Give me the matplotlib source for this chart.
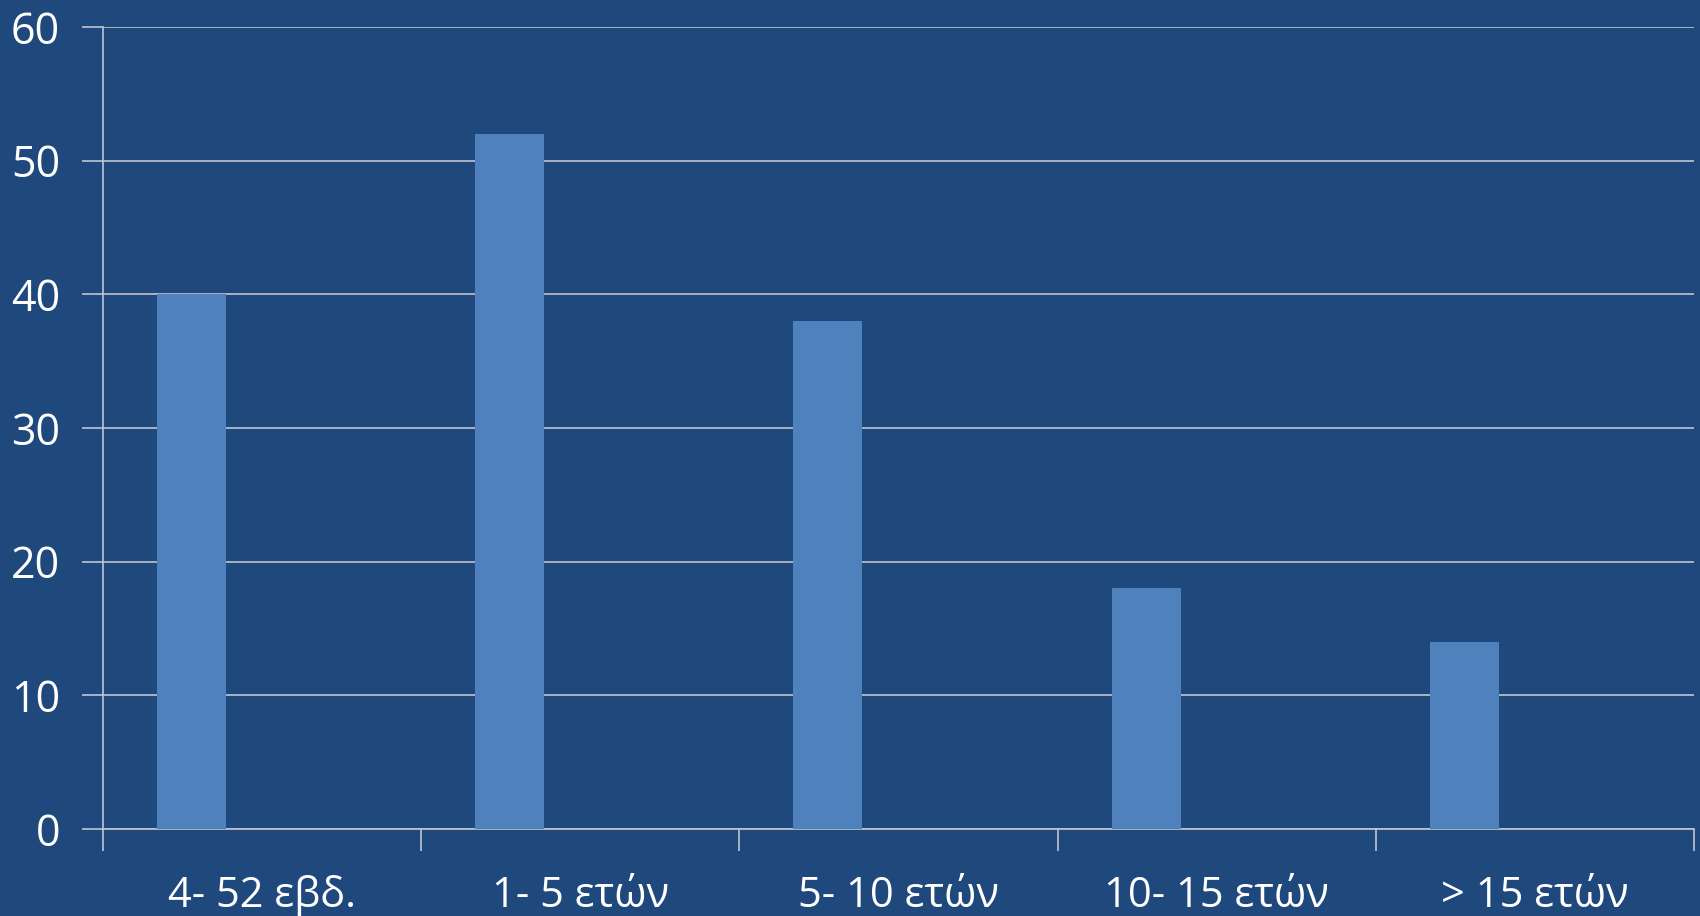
import matplotlib.pyplot as plt
import numpy as np

categories = ['4- 52 εβδ.', '1- 5 ετών', '5- 10 ετών', '10- 15 ετών', '> 15 ετών']
values = [40, 52, 38, 18, 14]

bg = '#1f487c'
bar_color = '#4f81bd'
line_color = '#bfc5cf'

plt.rcParams['font.family'] = ['Open Sans', 'DejaVu Sans']

fig = plt.figure(figsize=(17, 9.16), dpi=100, facecolor=bg)
ax = fig.add_axes([0.0606, 0.095, 0.9359, 0.8755])
ax.set_facecolor(bg)

x = np.arange(len(categories))
# clustered layout with three slots per category, only the first used
ax.bar(x - 0.222, values, width=0.217, color=bar_color, zorder=3)

ax.set_xlim(-0.5, len(categories) - 0.5)
ax.set_ylim(0, 60)
ax.set_yticks(range(0, 61, 10))
ax.yaxis.grid(True, color=line_color, linewidth=1.2, zorder=0)

ax.set_xticks(x)
ax.set_xticklabels(categories)
ax.set_xticks(np.arange(-0.5, len(categories), 1), minor=True)
ax.tick_params(axis='x', which='major', length=0, pad=33, labelsize=30, labelcolor='white')
ax.tick_params(axis='x', which='minor', length=16, width=1.2, color=line_color)
ax.tick_params(axis='y', length=15, width=1.2, color=line_color, pad=16, labelsize=31, labelcolor='white')

for s in ['top', 'right']:
    ax.spines[s].set_visible(False)
for s in ['left', 'bottom']:
    ax.spines[s].set_color(line_color)
    ax.spines[s].set_linewidth(1.2)

fig.savefig('out.png', facecolor=bg)
